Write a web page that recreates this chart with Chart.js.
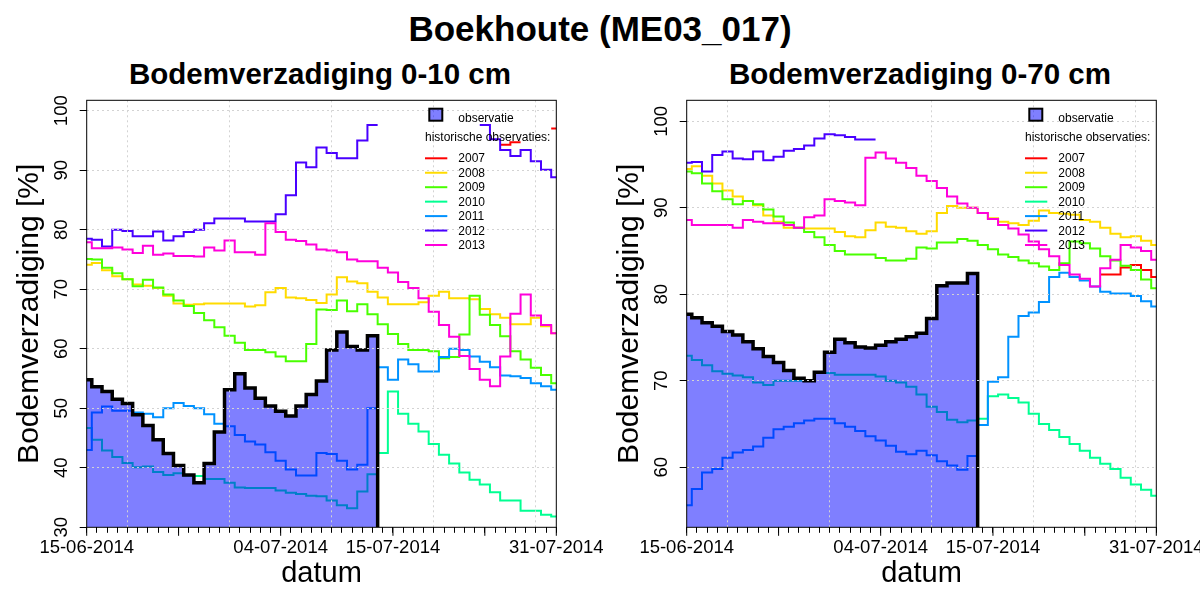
<!DOCTYPE html>
<html>
<head>
<meta charset="utf-8">
<script src="https://cdn.jsdelivr.net/npm/chart.js@4"></script>
<style>
html,body{margin:0;padding:0;background:#fff;width:1200px;height:600px;overflow:hidden;position:relative;font-family:"Liberation Sans",Arial,sans-serif;}
.t{position:absolute;white-space:nowrap;font-weight:bold;color:#000;transform:translateX(-50%);line-height:1;}
.c{position:absolute;top:0;width:620px;height:600px;}
</style>
</head>
<body>
<div class="t" style="left:600px;top:11px;font-size:35px">Boekhoute (ME03_017)</div>
<div class="t" style="left:320px;top:59px;font-size:29.5px">Bodemverzadiging 0-10 cm</div>
<div class="t" style="left:920px;top:59px;font-size:29.5px">Bodemverzadiging 0-70 cm</div>
<div class="c" style="left:0"><canvas id="c1" width="620" height="600"></canvas></div>
<div class="c" style="left:600px"><canvas id="c2" width="620" height="600"></canvas></div>
<script>
// ---- x axis: day index 0 = 15-06-2014 ... 46 = 31-07-2014
const xTickDays = [0, 19, 30, 46];
const xTickLabels = ['15-06-2014', '04-07-2014', '15-07-2014', '31-07-2014'];
const xMajorDays = [0, 9, 19, 30, 39, 46];
const xGridDays = [4, 14, 24, 34, 44];

const years = ['2007', '2008', '2009', '2010', '2011', '2012', '2013'];
const yearColors = ['#FF0000', '#FFDB00', '#49FF00', '#00FF92', '#0092FF', '#4900FF', '#FF00DB'];
const legendObsLabel = 'observatie';
const legendHistLabel = 'historische observaties:';

// ---- Bodemverzadiging 0-10 cm
const obs_0_10 = [54.8,53.6,52.8,51.5,50.8,48.9,47.1,44.7,42.4,40.4,38.8,37.5,40.7,46.0,53.1,55.8,53.4,51.7,50.4,49.5,48.7,50.4,52.3,54.6,59.8,62.8,60.4,59.8,62.2];
const y2007_0_10 = [null,null,null,null,null,null,null,null,null,null,null,null,null,null,null,null,null,null,null,null,null,null,null,null,null,null,null,null,null,null,null,null,null,null,null,null,null,null,null,null,null,94.3,94.7,null,null,null,97.0];
const y2008_0_10 = [74.1,74.4,73.2,72.2,71.7,70.8,70.6,70.2,68.9,67.6,67.4,67.5,67.6,67.6,67.6,67.6,67.1,67.3,69.5,70.2,68.6,68.5,68.2,67.7,69.1,72.0,71.3,71.0,69.6,68.6,67.5,67.5,67.5,67.8,68.9,69.6,68.5,68.5,68.3,66.7,65.8,65.2,64.1,64.1,65.2,63.8,62.6];
const y2009_0_10 = [75.1,75.0,73.6,72.7,71.7,70.5,71.6,70.3,69.1,68.1,67.2,66.0,64.8,63.6,62.2,61.0,59.8,59.8,59.4,58.7,57.9,57.9,60.8,66.6,66.5,68.1,66.3,67.5,65.8,64.1,62.5,60.8,59.8,59.8,59.6,58.4,58.6,62.4,68.9,65.7,64.0,62.1,59.6,58.2,56.8,55.6,54.2];
const y2010_0_10 = [46.7,44.7,42.9,41.8,40.8,40.1,40.2,39.3,38.8,39.1,38.7,38.6,38.1,38.1,37.5,36.7,36.6,36.6,36.6,36.2,35.8,35.6,35.3,35.2,34.5,33.7,33.2,36.0,38.9,42.5,52.8,49.1,47.4,46.1,44.0,42.2,40.7,39.2,38.0,37.2,35.9,34.5,34.5,32.8,32.8,32.1,31.8];
const y2011_0_10 = [43.0,49.3,50.3,49.6,49.6,49.3,49.1,48.5,50.0,50.9,50.4,50.0,49.0,47.4,47.0,45.5,44.4,43.9,42.6,41.2,39.7,38.7,38.7,42.5,42.3,41.2,39.7,40.5,50.0,56.9,54.8,58.2,57.4,56.2,56.2,58.6,60.0,59.8,58.7,57.8,56.9,55.5,55.4,55.1,54.2,53.7,53.1];
const y2012_0_10 = [78.5,78.3,77.2,80.0,79.8,78.9,78.9,79.7,78.2,78.9,79.6,80.0,81.1,81.9,81.9,81.9,81.4,81.4,81.4,82.6,85.8,91.3,90.5,93.8,92.9,92.0,92.0,95.0,97.6,null,null,null,null,null,null,null,null,null,null,97.6,95.2,93.4,92.4,93.4,91.5,90.1,88.8];
const y2013_0_10 = [77.9,76.9,76.9,77.0,76.7,76.1,77.3,75.8,76.0,75.6,75.6,75.5,77.0,76.5,78.2,76.2,76.2,75.8,81.1,79.6,78.3,78.1,77.5,76.7,76.5,76.2,75.0,74.7,74.7,73.6,72.8,71.2,70.2,68.5,66.2,64.0,62.0,58.8,56.6,54.8,53.7,58.7,65.9,69.1,65.6,64.0,62.6];
const yMin_0_10 = 30, yMax_0_10 = 101.75;

// ---- Bodemverzadiging 0-70 cm
const obs_0_70 = [77.7,77.3,76.7,76.3,75.7,75.3,74.5,73.7,72.8,72.1,71.2,70.3,70.0,71.0,73.3,74.8,74.4,73.9,73.8,74.1,74.5,74.8,75.1,75.5,77.2,81.0,81.3,81.3,82.4];
const y2007_0_70 = [null,null,null,null,null,null,null,null,null,null,null,null,null,null,null,null,null,null,null,null,null,null,null,null,null,null,null,null,null,null,null,null,null,null,null,null,null,null,null,null,null,82.3,82.3,83.1,83.4,82.8,82.0];
const y2008_0_70 = [94.5,94.8,93.7,92.8,92.0,91.3,90.8,90.3,89.1,88.4,87.7,87.7,87.6,87.6,87.6,87.2,86.7,86.6,87.4,88.3,87.8,87.7,87.3,87.0,87.3,89.4,90.2,90.0,90.0,89.4,88.8,88.4,88.2,88.0,88.5,89.7,89.4,89.3,89.2,88.6,88.4,87.7,87.0,86.6,86.7,86.2,85.7];
const y2009_0_70 = [94.2,94.0,92.8,91.9,91.0,90.4,90.8,90.4,89.8,89.0,88.3,87.7,87.2,86.6,85.7,85.0,84.6,84.6,84.6,84.2,83.9,83.9,84.1,85.4,85.3,86.0,86.0,86.4,86.2,85.7,85.2,84.6,84.3,83.9,83.6,83.2,82.8,83.6,86.1,85.9,85.3,84.4,83.9,83.3,82.8,81.7,80.7];
const y2010_0_70 = [72.9,72.4,71.8,71.1,70.8,70.6,70.4,69.8,69.5,70.0,70.0,70.0,70.0,70.9,70.9,70.7,70.7,70.7,70.7,70.5,70.0,69.8,69.3,68.4,67.0,66.4,65.5,65.2,65.4,65.6,68.2,68.4,68.0,67.5,66.2,65.0,64.3,63.5,62.7,61.9,61.1,60.4,59.8,58.8,58.0,57.4,56.7];
const y2011_0_70 = [55.6,57.5,59.4,59.8,61.1,61.7,62.0,62.4,63.4,64.4,64.7,65.1,65.4,65.6,65.6,65.1,64.7,64.2,63.6,63.1,62.5,61.8,61.5,61.9,61.4,60.7,60.2,59.7,61.3,64.9,69.9,70.4,75.1,77.5,77.9,79.1,82.0,82.5,82.0,81.6,80.9,80.3,80.1,80.1,79.8,79.2,78.6];
const y2012_0_70 = [95.2,95.3,94.2,96.1,96.5,95.7,95.6,96.5,95.5,95.9,96.6,96.8,97.2,98.0,98.5,98.4,98.2,97.9,97.9,null,null,null,null,null,null,null,null,null,null,null,null,null,null,null,null,null,null,null,null,null,null,null,null,null,null,null,null];
const y2013_0_70 = [88.6,88.0,88.0,88.0,88.0,87.7,88.6,88.4,88.2,88.2,88.0,87.7,88.9,89.1,91.0,90.8,90.6,90.3,95.8,96.4,95.7,95.2,94.6,93.7,93.1,92.3,91.3,90.5,90.0,89.4,88.7,88.0,87.6,86.9,86.1,85.2,84.4,83.4,82.3,81.8,80.9,83.0,84.0,85.7,85.4,85.0,84.0];
const yMin_0_70 = 53.06, yMax_0_70 = 102.43;

const FONT = "'Liberation Sans', Arial, sans-serif";
const gridColor = '#D3D3D3';
Chart.defaults.font.family = FONT;

// daily values -> step points (each day's value spans day-0.5 .. day+0.5)
function toSteps(values, dropTo) {
  const pts = [];
  for (let i = 0; i < values.length; i++) {
    const v = values[i];
    if (v === null || v === undefined) continue;
    pts.push({x: i - 0.5, y: v});
    const nx = values[i + 1];
    if (nx === null || nx === undefined) {
      pts.push({x: i + 0.5, y: dropTo !== undefined ? dropTo : v});
      pts.push({x: i + 0.5, y: null});
    }
  }
  return pts;
}

const extras = {
  id: 'extras',
  afterDraw(chart) {
    const {ctx, chartArea: a} = chart;
    const xs = chart.scales.x;
    ctx.save();
    // box around plot
    ctx.strokeStyle = '#000';
    ctx.lineWidth = 1;
    ctx.strokeRect(a.left, a.top, a.right - a.left, a.bottom - a.top);
    // longer major ticks
    ctx.beginPath();
    xMajorDays.forEach(d => {
      const px = xs.getPixelForValue(d);
      ctx.moveTo(px, a.bottom);
      ctx.lineTo(px, a.bottom + 8.5);
    });
    ctx.stroke();
    // legend
    const R = a.right, T = a.top;
    ctx.fillStyle = 'rgba(0,0,255,0.5)';
    ctx.fillRect(R - 127, T + 8.4, 13, 12);
    ctx.lineWidth = 2;
    ctx.strokeStyle = '#000';
    ctx.strokeRect(R - 127, T + 8.4, 13, 12);
    ctx.font = '12px ' + FONT;
    ctx.textBaseline = 'middle';
    ctx.textAlign = 'left';
    ctx.fillStyle = '#000';
    ctx.fillText(legendObsLabel, R - 98, T + 18.5);
    ctx.fillText(legendHistLabel, R - 131.3, T + 37);
    years.forEach((yr, k) => {
      const yy = T + 58 + 14.45 * k;
      ctx.strokeStyle = yearColors[k];
      ctx.lineWidth = 2;
      ctx.beginPath();
      ctx.moveTo(R - 131.3, yy);
      ctx.lineTo(R - 109, yy);
      ctx.stroke();
      ctx.fillStyle = '#000';
      ctx.fillText(yr, R - 98, yy + 0.8);
    });
    ctx.restore();
  }
};

function makeChart(id, obs, hist, yMin, yMax) {
  const datasets = [{
    data: toSteps(obs, yMin), borderColor: '#000', borderWidth: 3.5,
    backgroundColor: 'rgba(0,0,255,0.5)', fill: 'start', stepped: true, order: 0, clip: 0,
    pointRadius: 0
  }];
  hist.forEach((vals, k) => datasets.push({
    data: toSteps(vals), borderColor: yearColors[k], borderWidth: 2, fill: false,
    stepped: true, order: 7 - k, clip: 0, pointRadius: 0, spanGaps: false
  }));
  return new Chart(document.getElementById(id), {
    type: 'line',
    data: {datasets},
    options: {
      responsive: false, animation: false, events: [],
      layout: {padding: {left: 0, right: 63.7, top: 100.3, bottom: 0}, autoPadding: false},
      elements: {point: {radius: 0, hoverRadius: 0}, line: {tension: 0}},
      plugins: {legend: {display: false}, tooltip: {enabled: false}},
      scales: {
        x: {
          type: 'linear', min: 0, max: 46,
          afterFit: s => { s.height = 72.7; },
          ticks: {
            stepSize: 1, autoSkip: false, maxRotation: 0, minRotation: 0, includeBounds: false,
            maxTicksLimit: 100, padding: 3.6, color: '#000', font: {family: FONT, size: 18.5},
            callback: v => { const i = xTickDays.indexOf(v); return i >= 0 ? xTickLabels[i] : ''; }
          },
          grid: {
            z: 1, drawOnChartArea: true, drawTicks: true, tickLength: 5.5, tickColor: '#000', tickWidth: 1,
            lineWidth: 1,
            color: c => (c.tick && xGridDays.includes(c.tick.value)) ? gridColor : 'rgba(0,0,0,0)'
          },
          border: {display: false, z: 1, color: '#000', width: 1, dash: [2, 3]},
          title: {display: true, text: 'datum', color: '#000', font: {family: FONT, size: 29}, padding: {top: 0, bottom: 8.6}}
        },
        y: {
          type: 'linear', min: yMin, max: yMax,
          afterFit: s => { s.width = 86.7; },
          ticks: {
            stepSize: 10, includeBounds: false, minRotation: 90, maxRotation: 90, crossAlign: 'center',
            padding: 2.6, color: '#000', font: {family: FONT, size: 18.5}
          },
          grid: {
            z: 1, tickLength: 7, tickColor: '#000', tickWidth: 1, lineWidth: 1,
            color: c => (c.tick && c.tick.value > yMin) ? gridColor : 'rgba(0,0,0,0)'
          },
          border: {display: false, z: 1, color: '#000', width: 1, dash: [2, 3]},
          title: {display: true, text: 'Bodemverzadiging [%]', color: '#000', font: {family: FONT, size: 30}, padding: {top: 11.4, bottom: 0}}
        }
      }
    },
    plugins: [extras]
  });
}

makeChart('c1', obs_0_10, [y2007_0_10, y2008_0_10, y2009_0_10, y2010_0_10, y2011_0_10, y2012_0_10, y2013_0_10], yMin_0_10, yMax_0_10);
makeChart('c2', obs_0_70, [y2007_0_70, y2008_0_70, y2009_0_70, y2010_0_70, y2011_0_70, y2012_0_70, y2013_0_70], yMin_0_70, yMax_0_70);
</script>
</body>
</html>
